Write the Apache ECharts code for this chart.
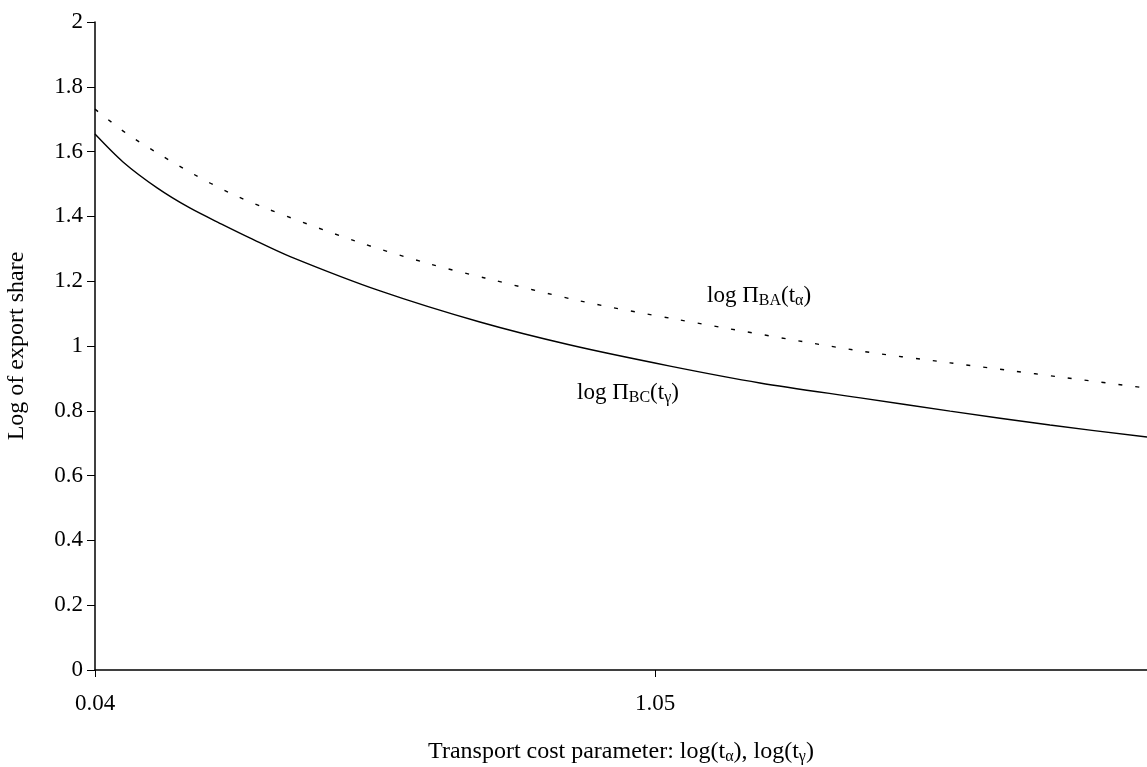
<!DOCTYPE html>
<html>
<head>
<meta charset="utf-8">
<script src="https://cdn.jsdelivr.net/npm/echarts@6/dist/echarts.min.js"></script>
<style>
  html, body { margin: 0; padding: 0; background: #fff; }
  #chart { width: 1147px; height: 767px; }
</style>
</head>
<body>
<div id="chart"></div>
<script>
var xTicks = [0.04, 1.05];
var xMin = 0.04;
var xMax = 1.937;

// log Pi_BC(t_gamma) - solid
var bcX = [0.04, 0.0905, 0.152, 0.211, 0.271, 0.320, 0.392, 0.554, 0.734, 0.897, 1.077, 1.239, 1.420, 1.582, 1.762, 1.937];
var bcY = [1.654, 1.568, 1.488, 1.426, 1.374, 1.333, 1.276, 1.170, 1.074, 1.003, 0.938, 0.886, 0.840, 0.799, 0.756, 0.719];

// log Pi_BA(t_alpha) - dotted
var baX = [0.04, 0.096, 0.155, 0.217, 0.280, 0.342, 0.509, 0.644, 0.743, 0.915, 1.086, 1.407, 1.582, 1.937];
var baY = [1.731, 1.657, 1.593, 1.531, 1.475, 1.429, 1.324, 1.253, 1.210, 1.139, 1.083, 0.988, 0.948, 0.870];

var FONT = "'Liberation Serif', 'Times New Roman', serif";

function pairs(xs, ys) {
  return xs.map(function (x, i) { return [x, ys[i]]; });
}

var myChart = echarts.init(document.getElementById("chart"));
var option;

var richMain = { fontFamily: FONT, fontSize: 24, color: "#000" };
var richSub = { fontFamily: FONT, fontSize: 16, color: "#000", padding: [11, 0, 0, 0] };

option = {
  animation: false,
  backgroundColor: "#fff",
  textStyle: { fontFamily: FONT, color: "#000" },
  grid: {
    left: 95,
    right: 0,
    top: 22,
    bottom: 97,
    outerBoundsMode: "none",
  },
  xAxis: {
    type: "value",
    min: xMin,
    max: xMax,
    name: "{a|Transport cost parameter: log(t}{s|α}{a|), log(t}{s|γ}{a|)}",
    nameLocation: "middle",
    nameGap: 68,
    nameTextStyle: {
      rich: { a: richMain, s: richSub },
    },
    splitLine: { show: false },
    axisLine: { onZero: false, lineStyle: { color: "#000", width: 1.5 } },
    axisTick: {
      customValues: xTicks,
      length: 7,
      lineStyle: { color: "#000", width: 1 },
    },
    axisLabel: {
      customValues: xTicks,
      margin: 22,
      fontFamily: FONT,
      fontSize: 23,
      color: "#000",
      formatter: function (v) {
        return v.toFixed(2);
      },
    },
  },
  yAxis: {
    type: "value",
    min: 0,
    max: 2,
    interval: 0.2,
    name: "Log of export share",
    nameLocation: "middle",
    nameGap: 66,
    nameTextStyle: { fontFamily: FONT, fontSize: 24, color: "#000" },
    splitLine: { show: false },
    axisLine: { show: true, lineStyle: { color: "#000", width: 1.5 } },
    axisTick: { show: true, length: 8, lineStyle: { color: "#000", width: 1 } },
    axisLabel: {
      margin: 12,
      fontFamily: FONT,
      fontSize: 23,
      color: "#000",
    },
  },
  graphic: [
    {
      type: "text",
      left: 707,
      top: 284,
      style: {
        text: "{a|log Π}{s|BA}{a|(t}{s|α}{a|)}",
        rich: {
          a: { fontFamily: FONT, fontSize: 23, fill: "#000" },
          s: { fontFamily: FONT, fontSize: 16, fill: "#000", padding: [11, 0, 0, 0] },
        },
      },
    },
    {
      type: "text",
      left: 577,
      top: 381,
      style: {
        text: "{a|log Π}{s|BC}{a|(t}{s|γ}{a|)}",
        rich: {
          a: { fontFamily: FONT, fontSize: 23, fill: "#000" },
          s: { fontFamily: FONT, fontSize: 16, fill: "#000", padding: [11, 0, 0, 0] },
        },
      },
    },
  ],
  series: [
    {
      name: "BC",
      type: "line",
      smooth: 0.3,
      showSymbol: false,
      lineStyle: { color: "#000", width: 1.4 },
      data: pairs(bcX, bcY),
    },
    {
      name: "BA",
      type: "line",
      smooth: 0.3,
      showSymbol: false,
      lineStyle: { color: "#000", width: 1.4, type: [4, 13] },
      data: pairs(baX, baY),
    },
  ],
};

option && myChart.setOption(option);
</script>
</body>
</html>
